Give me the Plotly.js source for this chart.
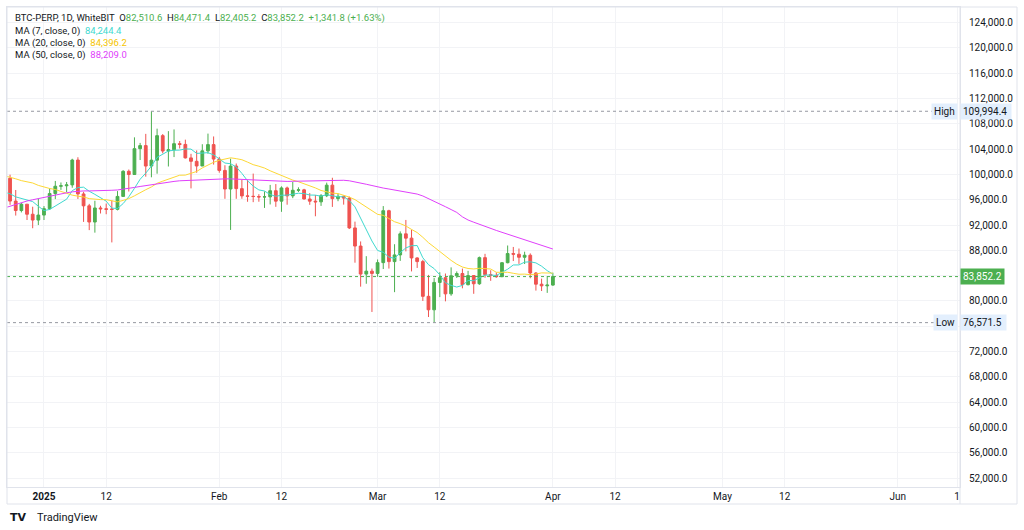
<!DOCTYPE html>
<html><head><meta charset="utf-8">
<script src="https://cdn.plot.ly/plotly-3.0.1.min.js"></script>
<style>html,body{margin:0;padding:0;background:#fff;}#chart{width:1024px;height:530px;}</style>
</head><body><div id="chart"></div>
<script>
const dates = ['2024-12-25','2024-12-26','2024-12-27','2024-12-28','2024-12-29','2024-12-30','2024-12-31',
'2025-01-01','2025-01-02','2025-01-03','2025-01-04','2025-01-05','2025-01-06','2025-01-07','2025-01-08','2025-01-09','2025-01-10',
'2025-01-11','2025-01-12','2025-01-13','2025-01-14','2025-01-15','2025-01-16','2025-01-17','2025-01-18','2025-01-19','2025-01-20',
'2025-01-21','2025-01-22','2025-01-23','2025-01-24','2025-01-25','2025-01-26','2025-01-27','2025-01-28','2025-01-29','2025-01-30','2025-01-31',
'2025-02-01','2025-02-02','2025-02-03','2025-02-04','2025-02-05','2025-02-06','2025-02-07','2025-02-08','2025-02-09','2025-02-10',
'2025-02-11','2025-02-12','2025-02-13','2025-02-14','2025-02-15','2025-02-16','2025-02-17','2025-02-18','2025-02-19','2025-02-20',
'2025-02-21','2025-02-22','2025-02-23','2025-02-24','2025-02-25','2025-02-26','2025-02-27','2025-02-28',
'2025-03-01','2025-03-02','2025-03-03','2025-03-04','2025-03-05','2025-03-06','2025-03-07','2025-03-08','2025-03-09','2025-03-10',
'2025-03-11','2025-03-12','2025-03-13','2025-03-14','2025-03-15','2025-03-16','2025-03-17','2025-03-18','2025-03-19','2025-03-20',
'2025-03-21','2025-03-22','2025-03-23','2025-03-24','2025-03-25','2025-03-26','2025-03-27','2025-03-28','2025-03-29','2025-03-30','2025-03-31',
'2025-04-01'];

const open = [98676,99400,95791,94299,95300,93710,92790,
93580,94590,96980,98140,98210,98350,102280,96920,95040,92480,
94700,94570,94530,94480,96530,100500,99990,104080,104560,101330,
102260,106140,103710,103910,104870,104750,102620,102080,101340,103730,104720,
102430,100640,97700,101330,97760,96610,96550,96510,96440,96460,
97430,95780,97870,96610,97500,97570,96120,95780,95670,96640,
98310,96180,96550,96260,91550,88680,84250,84710,
84350,86060,94270,86220,87280,90610,89930,86800,86220,80730,
78600,82930,83680,81120,83980,84340,82570,84010,82720,86850,
84170,84040,83830,86050,87500,87390,86910,87230,84420,82650,82390,
82510.6];
const high = [99500,99963,97544,95500,95300,94900,96150,
95000,97800,98976,98734,98813,102482,102720,97260,95350,95840,
95050,95400,95900,97370,100680,100780,105870,104990,106420,109994.4,
107240,106390,106850,107120,105290,105500,103260,103800,104780,106460,106010,
102780,101460,102500,101730,99150,99120,100140,96880,97320,98350,
98480,98120,98080,98830,97970,97730,97050,96750,96900,98710,
99480,96980,96650,96500,92540,89410,87080,85120,
86560,95000,94420,88970,91000,92810,91280,86900,86500,84120,
83620,84540,84340,85310,84670,85120,84760,84020,87020,87450,
84850,84510,86130,88770,88540,88290,87790,87520,84570,83530,83940,
84471.4];
const low = [97595,95199,93500,94000,92800,91500,92000,
92800,94400,96100,97560,97200,97900,96130,92500,91200,90800,
93830,93710,89256,94320,96500,97300,99950,102280,99650,99550,
100120,103340,101260,102750,104110,102520,97800,100270,101330,103280,101560,
100280,96150,91230,96150,96160,95680,95620,95690,94710,95260,
94880,94090,95220,96250,97220,96050,95200,93390,95030,96420,
94870,95770,95230,91370,86050,82260,82720,78260,
83820,85050,85120,81390,86330,87840,84670,85220,80000,77460,
76571.5,80610,79940,80820,83640,82000,82460,81130,82550,83660,
83180,83670,83800,85950,86310,85860,85840,83590,81640,81570,81280,
82405.2];
const close = [99400,95791,94299,95300,93710,92790,93580,
94590,96980,98140,98210,98350,102280,96920,95040,92480,94700,
94570,94490,94480,96530,100500,99990,104080,104560,101330,102260,
106140,103710,103910,104870,104750,102620,102080,101340,103730,104720,102430,
100640,97700,101330,97760,96610,96550,96510,96440,96460,97430,
95780,97870,96610,97500,97570,96120,95780,95670,96640,98310,
96180,96550,96260,91550,88680,84250,84710,84350,
86060,94270,86220,87280,90610,89930,86800,86220,80730,78600,
82930,83680,81120,83980,84340,82570,84010,82720,86850,84170,
84040,83830,86050,87500,87390,86910,87230,84420,82650,82390,82510.4,
83852.2];

const ma7 = [97187,96949,96454,96180,95981,95710,94981,
94294,94464,95013,95429,96091,97447,97924,97989,97346,96854,
96334,95783,94674,94619,95399,96471,97811,99239,100216,101321,
102694,103153,103713,103826,103853,104037,104011,103326,103329,103444,103096,
102509,101806,101699,101187,100170,99003,98157,97557,97380,96823,
96540,96720,96729,96870,97031,96983,96747,96731,96556,96799,
96610,96464,96484,95880,94881,93111,91169,89479,
87980,87696,86934,86734,87643,88389,88739,88761,86827,85739,
85117,84127,82869,82466,82197,82460,83233,83203,83656,84091,
84100,84027,84524,85023,85690,85699,86136,86190,86021,85499,84791,
84244.4];
const ma20 = [99794,99590,99313,99023,98841,98651,98274,
98004,97782,97618,97305,96920,96727,96563,96442,96178,96052,
96025,96015,95807,95664,95899,96184,96623,97165,97592,98026,
98604,98940,99229,99562,99882,99899,100157,100472,101034,101535,101928,
102236,102395,102635,102498,102329,101952,101550,101305,101015,100580,
100183,99881,99468,99106,98853,98555,98277,97874,97470,97264,
97041,96984,96730,96420,96023,95408,94818,94214,
93694,93536,93058,92528,92228,91850,91311,90816,90064,89210,
88525,87793,87040,86412,85816,85367,85133,85057,85164,85155,
85054,84532,84523,84534,84373,84222,84244,84154,84250,84439,84420,
84396.2];
const ma50 = [94700,95000,95300,95550,95800,96000,96200,
96400,96600,96800,96950,97100,97250,97350,97400,97400,97400,
97420,97450,97500,97550,97650,97800,97950,98100,98250,98400,
98550,98700,98800,98900,99000,99050,99100,99150,99200,99250,99300,
99320,99300,99300,99250,99200,99150,99100,99050,99000,98950,
98920,98900,98900,98920,98950,98980,99000,99020,99050,99080,
99100,99100,99080,99000,98850,98650,98450,98250,
98000,97850,97700,97550,97400,97250,97100,96900,96600,96200,
95800,95350,94900,94450,94000,93300,92800,92450,92100,91750,
91450,91150,90850,90550,90250,89950,89650,89350,89050,88750,88480,
88209.0];

const yTicks = [52000,56000,60000,64000,68000,72000,76000,80000,84000,88000,92000,96000,100000,104000,108000,112000,116000,120000,124000];
const yTickText = ['52,000.0','56,000.0','60,000.0','64,000.0','68,000.0','72,000.0','','80,000.0','','88,000.0','92,000.0','96,000.0','100,000.0','104,000.0','108,000.0','112,000.0','116,000.0','120,000.0','124,000.0'];
const xTickVals = ['2025-01-01','2025-01-12','2025-02-01','2025-02-12','2025-03-01','2025-03-12','2025-04-01','2025-04-12','2025-05-01','2025-05-12','2025-06-01','2025-06-11 12:00'];
const xTickText = ['<b>2025</b>','12','Feb','12','Mar','12','Apr','12','May','12','Jun','1'];

const UP = '#4caf50', DOWN = '#ef5350';
const C7 = '#3fd9cf', C20 = '#fdd835', C50 = '#e040fb';
const FONT = 'Roboto, "Liberation Sans", Arial, sans-serif';
const fmt = v => v.toLocaleString('en-US', {minimumFractionDigits:1, maximumFractionDigits:1});
const n = close.length;
const hi = Math.max(...high), lo = Math.min(...low);
const last = close[n-1], chg = last - close[n-2], pct = chg / close[n-2] * 100;
const NB = '\u00a0', SP = '\u00a0\u00a0';

const traces = [
  {type:'candlestick', x:dates, open:open, high:high, low:low, close:close,
   increasing:{line:{color:UP,width:1}, fillcolor:UP},
   decreasing:{line:{color:DOWN,width:1}, fillcolor:DOWN},
   whiskerwidth:0, hoverinfo:'skip', showlegend:false},
  {type:'scatter', mode:'lines', x:dates, y:ma7, line:{color:C7,width:1}, hoverinfo:'skip', showlegend:false},
  {type:'scatter', mode:'lines', x:dates, y:ma20, line:{color:C20,width:1}, hoverinfo:'skip', showlegend:false},
  {type:'scatter', mode:'lines', x:dates, y:ma50, line:{color:C50,width:1}, hoverinfo:'skip', showlegend:false}
];

const W = 1024, H = 530, L = 7, R = 960, T = 7, B = 487;
const px = x => (x - L) / (R - L);
const py = y => 1 - (y - T) / (B - T);
const FR = '#e0e3eb';

const g = s => '<span style="color:'+UP+'">'+s+'</span>';
const line1 = 'BTC-PERP, 1D, WhiteBIT'+SP+'O'+g(fmt(open[n-1]))+SP+'H'+g(fmt(high[n-1]))+SP+'L'+g(fmt(low[n-1]))+SP+'C'+g(fmt(close[n-1]))+SP+g((chg>=0?'+':'')+fmt(chg)+' ('+(chg>=0?'+':'')+pct.toFixed(2)+'%)');

const legendAnn = (y, text) => ({xref:'paper', yref:'paper', x:px(13), y:py(y), xanchor:'left', yanchor:'middle',
  showarrow:false, align:'left', text:text, font:{family:FONT, size:9.5, color:'#131722'}});

const annotations = [
  legendAnn(18, line1),
  legendAnn(31, 'MA (7, close, 0)'+SP+'<span style="color:'+C7+'">'+fmt(ma7[n-1])+'</span>'),
  legendAnn(43, 'MA (20, close, 0)'+SP+'<span style="color:#f5c400">'+fmt(ma20[n-1])+'</span>'),
  legendAnn(55, 'MA (50, close, 0)'+SP+'<span style="color:'+C50+'">'+fmt(ma50[n-1])+'</span>'),
  {xref:'paper', yref:'y', x:1, y:hi, xanchor:'left', yanchor:'middle', showarrow:false, text:fmt(hi)+NB,
   bgcolor:'#e3effd', borderpad:2, font:{family:FONT,size:10,color:'#131722'}},
  {xref:'paper', yref:'y', x:1, y:hi, xanchor:'right', yanchor:'middle', showarrow:false, text:'High', xshift:-2,
   bgcolor:'#e3effd', borderpad:2, font:{family:FONT,size:10,color:'#131722'}},
  {xref:'paper', yref:'y', x:1, y:lo, xanchor:'left', yanchor:'middle', showarrow:false, text:fmt(lo)+NB,
   bgcolor:'#e3effd', borderpad:2, font:{family:FONT,size:10,color:'#131722'}},
  {xref:'paper', yref:'y', x:1, y:lo, xanchor:'right', yanchor:'middle', showarrow:false, text:'Low', xshift:-2,
   bgcolor:'#e3effd', borderpad:2, font:{family:FONT,size:10,color:'#131722'}},
  {xref:'paper', yref:'y', x:1, y:last, xanchor:'left', yanchor:'middle', showarrow:false, text:fmt(last),
   bgcolor:UP, borderpad:2, font:{family:FONT,size:10,color:'#ffffff'}},
  {xref:'paper', yref:'paper', x:px(35), y:py(517), xanchor:'left', yanchor:'middle', showarrow:false,
   text:'TradingView', font:{family:FONT,size:11,color:'#131722'}},
  {xref:'paper', yref:'paper', x:px(8), y:py(517), xanchor:'left', yanchor:'middle', showarrow:false,
   text:'<b>TV</b>', font:{family:'"DejaVu Sans", sans-serif',size:11,color:'#131722'}}
];

const shapes = [
  {type:'line', xref:'paper', yref:'y', x0:0, x1:px(932), y0:hi, y1:hi, line:{color:'#9598a1',width:1,dash:'dot'}},
  {type:'line', xref:'paper', yref:'y', x0:0, x1:px(934), y0:lo, y1:lo, line:{color:'#9598a1',width:1,dash:'dot'}},
  {type:'line', xref:'paper', yref:'y', x0:0, x1:1, y0:last, y1:last, line:{color:UP,width:1,dash:'dot'}},
  {type:'rect', xref:'paper', yref:'paper', x0:0, x1:px(1017), y0:py(504), y1:1, line:{color:FR,width:1}},
  {type:'line', xref:'paper', yref:'paper', x0:1, x1:1, y0:py(504), y1:1, line:{color:FR,width:1}}
];

const layout = {
  width:W, height:H, margin:{l:L, r:W-R, t:T, b:H-B}, paper_bgcolor:'#ffffff', plot_bgcolor:'#ffffff',
  font:{family:FONT, size:10, color:'#131722'}, showlegend:false, hovermode:false, dragmode:false,
  xaxis:{type:'date', range:['2024-12-25 11:00','2025-06-12'], tickvals:xTickVals, ticktext:xTickText,
    showgrid:true, gridcolor:'#f2f3f6', showline:true, linecolor:FR, mirror:true, ticks:'',
    rangeslider:{visible:false}, zeroline:false, tickfont:{family:FONT,size:10,color:'#131722'}},
  yaxis:{side:'right', range:[50585,126477], tickvals:yTicks, ticktext:yTickText, showgrid:true, gridcolor:'#f2f3f6',
    showline:true, linecolor:FR, mirror:true, ticks:'', zeroline:false, ticklabelstandoff:6,
    tickfont:{family:FONT,size:10,color:'#131722'}},
  annotations:annotations, shapes:shapes
};

Plotly.newPlot('chart', traces, layout, {displayModeBar:false, staticPlot:true});
</script></body></html>
